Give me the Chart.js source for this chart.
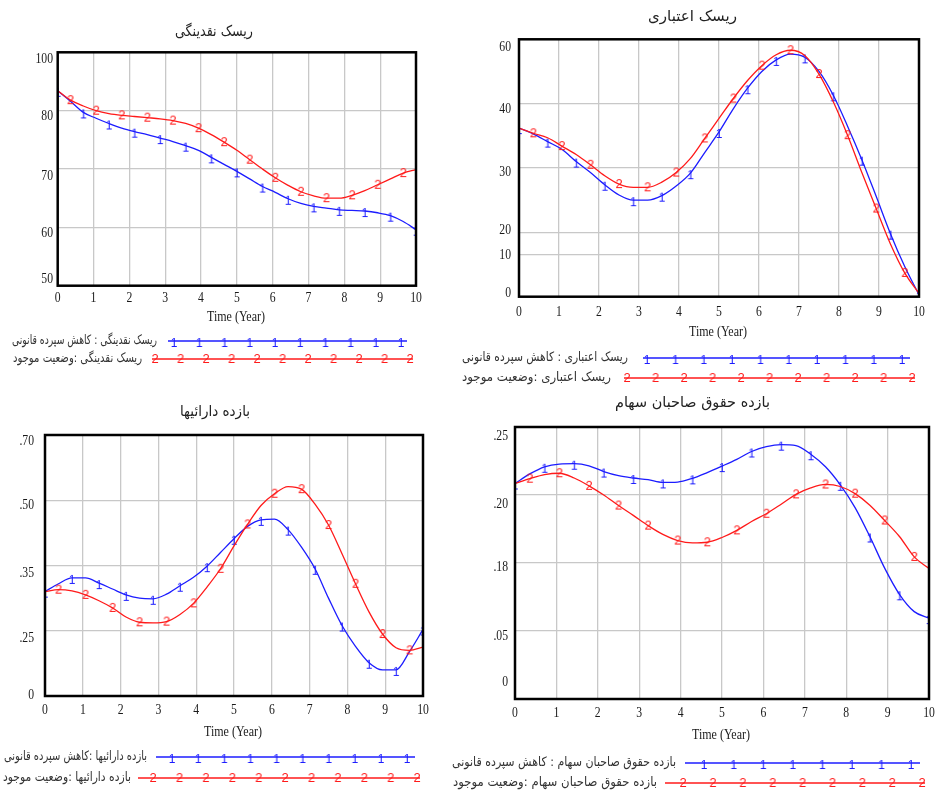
<!DOCTYPE html>
<html>
<head>
<meta charset="utf-8">
<script src="https://cdn.jsdelivr.net/npm/chart.js@4.4.0/dist/chart.umd.min.js"></script>
<style>
  body { margin: 0; background: #fff; width: 935px; height: 791px; position: relative; overflow: hidden; }
  canvas { position: absolute; }
</style>
</head>
<body>
<canvas id="c1"></canvas>
<canvas id="c2"></canvas>
<canvas id="c3"></canvas>
<canvas id="c4"></canvas>
<script>
// time points (years) shared by every series
const years = [0, 0.357, 0.714, 1.071, 1.429, 1.786, 2.143, 2.5, 2.857, 3.214, 3.571, 3.929, 4.286, 4.643, 5,
  5.357, 5.714, 6.071, 6.429, 6.786, 7.143, 7.5, 7.857, 8.214, 8.571, 8.929, 9.286, 9.643, 10];
const xTicks = [0, 1, 2, 3, 4, 5, 6, 7, 8, 9, 10];
const xGrid = [1, 2, 3, 4, 5, 6, 7, 8, 9];

// ریسک نقدینگی
const liquidityCut = [83.4, 81.6, 79.7, 78.7, 77.8, 77.0, 76.4, 75.9, 75.3, 74.7, 74.0, 73.2, 72.0, 70.8, 69.6,
  68.3, 67.0, 66.0, 64.9, 64.1, 63.6, 63.3, 63.0, 62.9, 62.8, 62.5, 62.0, 61.0, 59.6];
const liquidityNow = [83.4, 81.8, 80.8, 80.0, 79.5, 79.2, 79.0, 78.8, 78.6, 78.3, 77.8, 77.0, 75.9, 74.6, 73.2,
  71.6, 70.0, 68.5, 67.2, 66.1, 65.4, 65.0, 65.0, 65.5, 66.3, 67.3, 68.3, 69.3, 69.9];
const liquidityGrid = [60, 70, 80];
const liquidityTickPos = [88.8, 79.1, 68.8, 59.1, 51.1];
const liquidityTickText = ['100', '80', '70', '60', '50'];

// ریسک اعتباری
const creditCut = [36.2, 35.3, 34.1, 32.9, 31.0, 29.3, 27.4, 25.8, 25.0, 25.0, 25.7, 27.2, 29.2, 32.4, 35.6,
  39.2, 42.4, 45.0, 46.8, 47.7, 47.2, 45.0, 41.3, 36.5, 31.3, 25.6, 19.8, 14.7, 10.3];
const creditNow = [36.2, 35.4, 34.7, 33.4, 32.1, 30.5, 28.8, 27.5, 27.0, 27.0, 27.8, 29.3, 31.5, 34.6, 37.7,
  40.8, 43.6, 45.9, 47.6, 48.3, 47.5, 44.6, 40.3, 35.1, 29.3, 23.7, 18.2, 13.7, 10.5];
const creditGrid = [16.6, 20, 30, 40];
const creditTickPos = [48.8, 39.2, 29.4, 20.4, 16.5, 10.6];
const creditTickText = ['60', '40', '30', '20', '10', '0'];

// بازده دارائیها
const roaCut = [0.310, 0.322, 0.331, 0.331, 0.323, 0.314, 0.305, 0.300, 0.299, 0.306, 0.319, 0.332, 0.349, 0.370, 0.391,
  0.410, 0.420, 0.421, 0.405, 0.378, 0.345, 0.300, 0.258, 0.226, 0.201, 0.190, 0.190, 0.218, 0.252];
const roaNow = [0.310, 0.313, 0.311, 0.305, 0.296, 0.285, 0.271, 0.263, 0.262, 0.264, 0.275, 0.292, 0.317, 0.345, 0.380,
  0.413, 0.442, 0.460, 0.471, 0.467, 0.444, 0.412, 0.368, 0.322, 0.279, 0.245, 0.224, 0.220, 0.225];
const roaGrid = [0.25, 0.35, 0.45];
const roaTickPos = [0.540, 0.443, 0.338, 0.239, 0.152];
const roaTickText = ['.70', '.50', '.35', '.25', '0'];

// بازده حقوق صاحبان سهام
const roeCut = [0.2034, 0.2062, 0.2083, 0.2091, 0.2092, 0.2086, 0.2069, 0.2057, 0.2050, 0.2045, 0.2037, 0.2038, 0.2049, 0.2066, 0.2085,
  0.2105, 0.2128, 0.2142, 0.2148, 0.2145, 0.2120, 0.2083, 0.2030, 0.1963, 0.1878, 0.1785, 0.1708, 0.1657, 0.1638];
const roeNow = [0.2034, 0.2048, 0.2060, 0.2064, 0.2050, 0.2027, 0.2000, 0.1969, 0.1940, 0.1910, 0.1884, 0.1866, 0.1859, 0.1861, 0.1875,
  0.1896, 0.1922, 0.1945, 0.1973, 0.2002, 0.2021, 0.2031, 0.2025, 0.2004, 0.1970, 0.1925, 0.1878, 0.1818, 0.1784];
const roeGrid = [0.16, 0.18, 0.20];
const roeTickPos = [0.2173, 0.1973, 0.1788, 0.1586, 0.145];
const roeTickText = ['.25', '.20', '.18', '.05', '0'];

const BLUE = '#1c1cff';
const RED = '#ff1a1a';
const numFont = '15px "Liberation Serif"';
const faFont = '13px "DejaVu Sans"';
const titleFont = '15px "DejaVu Sans"';

// small digit images used as Vensim-style line markers
function makeMark(ch, color, px, dy) {
  const c = document.createElement('canvas');
  c.width = 10; c.height = 16;
  const g = c.getContext('2d');
  g.font = px + 'px "Liberation Sans"';
  g.fillStyle = color;
  g.textAlign = 'center';
  g.textBaseline = 'middle';
  g.fillText(ch, 5, 8.5 + dy);
  return c;
}
const markBlue = makeMark('1', BLUE, 12, 2);
const markRed = makeMark('2', RED, 13, 0);

function drawText(ctx, str, x, y, font, color, align, sx, rtl) {
  ctx.save();
  ctx.translate(x, y);
  ctx.scale(sx, 1);
  ctx.font = font;
  ctx.fillStyle = color;
  ctx.textAlign = align;
  ctx.textBaseline = 'middle';
  ctx.direction = rtl ? 'rtl' : 'ltr';
  ctx.fillText(str, 0, 0);
  ctx.restore();
}

// persian text squeezed/stretched to span [x0, x1]
function fitText(ctx, str, x0, x1, y, font, color) {
  ctx.save();
  ctx.font = font;
  ctx.direction = 'rtl';
  const w = ctx.measureText(str).width;
  ctx.restore();
  drawText(ctx, str, x1, y, font, color, 'right', (x1 - x0) / w, true);
}

// frame, texts and the legend rows (all positions in page coordinates)
const decor = {
  id: 'decor',
  afterDraw(chart, args, o) {
    const ctx = chart.ctx;
    const a = chart.chartArea;
    const xs = chart.scales.x, ys = chart.scales.y;
    const [bx, by] = o.box;
    ctx.save();
    ctx.translate(-bx, -by);
    ctx.strokeStyle = '#000';
    ctx.lineWidth = 2.5;
    ctx.strokeRect(a.left + bx, a.top + by, a.right - a.left, a.bottom - a.top);

    fitText(ctx, o.title, o.title_at[0], o.title_at[1], o.title_at[2], titleFont, '#222');

    o.tickPos.forEach((v, i) => {
      drawText(ctx, o.tickText[i], o.yLabelRight, ys.getPixelForValue(v) + by, numFont, '#1a1a1a', 'right', 0.78);
    });
    xTicks.forEach(v => {
      drawText(ctx, String(v), xs.getPixelForValue(v) + bx, o.xTickY, numFont, '#1a1a1a', 'center', 0.78);
    });
    drawText(ctx, 'Time (Year)', o.axisAt[0], o.axisAt[1], numFont, '#1a1a1a', 'center', 0.8);

    o.legend.forEach((row, i) => {
      const color = i === 0 ? BLUE : RED;
      const mark = i === 0 ? markBlue : markRed;
      ctx.strokeStyle = color;
      ctx.lineWidth = 1.4;
      ctx.beginPath();
      ctx.moveTo(row.line[0], row.y);
      ctx.lineTo(row.line[1], row.y);
      ctx.stroke();
      const [m0, m1, n] = row.marks;
      for (let k = 0; k < n; k++) {
        const mx = m0 + k * (m1 - m0) / (n - 1);
        ctx.drawImage(mark, mx - mark.width / 2, row.y - mark.height / 2);
      }
      fitText(ctx, o.names[i], row.text[0], row.text[1], row.y, faFont, '#333');
    });
    ctx.restore();
  }
};

function series(vals) {
  return years.map((t, i) => ({ x: t, y: vals[i] }));
}

function makeChart(id, cut, now, yMin, yMax, yGrid, plot, opts) {
  const [bx, by, bw, bh] = opts.box;
  const cv = document.getElementById(id);
  cv.width = bw; cv.height = bh;
  cv.style.left = bx + 'px'; cv.style.top = by + 'px';
  const pad = { left: plot[0] - bx, top: plot[1] - by, right: bx + bw - plot[2], bottom: by + bh - plot[3] };
  new Chart(cv, {
    type: 'line',
    data: {
      datasets: [
        {
          data: series(cut), borderColor: BLUE, borderWidth: 1.3, order: 1,
          cubicInterpolationMode: 'monotone',
          pointStyle: markBlue,
          pointRadius: c => (c.dataIndex % 2 === 0 ? 4 : 0)
        },
        {
          data: series(now), borderColor: RED, borderWidth: 1.3, order: 0,
          cubicInterpolationMode: 'monotone',
          pointStyle: markRed,
          pointRadius: c => (c.dataIndex % 2 === 1 ? 4 : 0)
        }
      ]
    },
    options: {
      responsive: false,
      animation: false,
      events: [],
      layout: { padding: pad },
      plugins: { legend: { display: false }, tooltip: { enabled: false }, decor: opts },
      scales: {
        x: {
          type: 'linear', min: 0, max: 10,
          afterBuildTicks: s => { s.ticks = xGrid.map(v => ({ value: v })); },
          afterFit: s => { s.height = 0; },
          ticks: { display: false },
          border: { display: false },
          grid: { color: '#c8c8c8', lineWidth: 1.3, drawTicks: false }
        },
        y: {
          type: 'linear', min: yMin, max: yMax,
          afterBuildTicks: s => { s.ticks = yGrid.map(v => ({ value: v })); },
          afterFit: s => { s.width = 0; },
          ticks: { display: false },
          border: { display: false },
          grid: { color: '#c8c8c8', lineWidth: 1.3, drawTicks: false }
        }
      }
    },
    plugins: [decor]
  });
}

makeChart('c1', liquidityCut, liquidityNow, 50, 90, liquidityGrid, [57.7, 52.3, 416, 285.7], {
  box: [0, 0, 455, 395],
  title: 'ریسک نقدینگی', title_at: [175, 253, 32],
  tickPos: liquidityTickPos, tickText: liquidityTickText, yLabelRight: 53,
  xTickY: 298, axisAt: [236, 317],
  names: ['ریسک نقدینگی : کاهش سپرده قانونی', 'ریسک نقدینگی :وضعیت موجود'],
  legend: [
    { y: 341, line: [168, 407], marks: [174, 401, 10], text: [12, 157] },
    { y: 359, line: [152, 413], marks: [155, 410, 11], text: [13, 142] }
  ]
});

makeChart('c2', creditCut, creditNow, 10, 50, creditGrid, [519, 39.3, 919, 296.7], {
  box: [455, 0, 480, 395],
  title: 'ریسک اعتباری', title_at: [648, 737, 17],
  tickPos: creditTickPos, tickText: creditTickText, yLabelRight: 511,
  xTickY: 312, axisAt: [718, 332],
  names: ['ریسک اعتباری : کاهش سپرده قانونی', 'ریسک اعتباری :وضعیت موجود'],
  legend: [
    { y: 358, line: [643, 910], marks: [647, 902, 10], text: [462, 628] },
    { y: 378, line: [624, 915], marks: [627, 912, 11], text: [462, 611] }
  ]
});

makeChart('c3', roaCut, roaNow, 0.15, 0.55, roaGrid, [45, 435, 423, 696], {
  box: [0, 395, 440, 396],
  title: 'بازده دارائیها', title_at: [180, 250, 412],
  tickPos: roaTickPos, tickText: roaTickText, yLabelRight: 34,
  xTickY: 710, axisAt: [233, 732],
  names: ['بازده دارائیها :کاهش سپرده قانونی', 'بازده دارائیها :وضعیت موجود'],
  legend: [
    { y: 757, line: [156, 415], marks: [172, 407, 10], text: [4, 147] },
    { y: 778, line: [138, 420], marks: [153, 417, 11], text: [3, 131] }
  ]
});

makeChart('c4', roeCut, roeNow, 0.14, 0.22, roeGrid, [515, 427, 929, 699], {
  box: [440, 395, 495, 396],
  title: 'بازده حقوق صاحبان سهام', title_at: [615, 770, 403],
  tickPos: roeTickPos, tickText: roeTickText, yLabelRight: 508,
  xTickY: 713, axisAt: [721, 735],
  names: ['بازده حقوق صاحبان سهام : کاهش سپرده قانونی', 'بازده حقوق صاحبان سهام :وضعیت موجود'],
  legend: [
    { y: 763, line: [685, 920], marks: [704, 911, 8], text: [452, 676] },
    { y: 783, line: [665, 925], marks: [683, 922, 9], text: [453, 657] }
  ]
});
</script>
</body>
</html>
